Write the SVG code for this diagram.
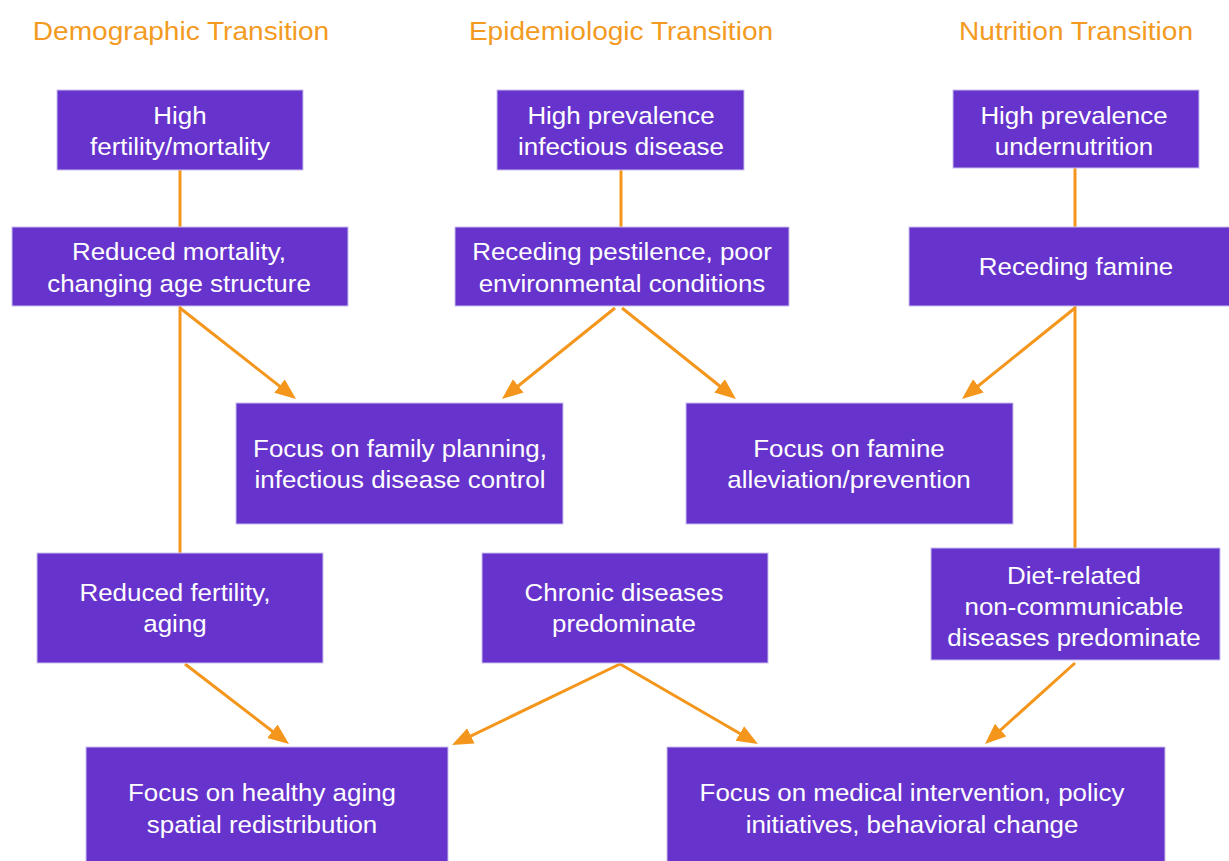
<svg xmlns="http://www.w3.org/2000/svg" width="1229" height="861" viewBox="0 0 1229 861">
  <style>
    .box { fill: #6633cc; stroke: #c9bfee; stroke-width: 1; }
    .t { font-family: "Liberation Sans", Arial, sans-serif; font-size: 24px; fill: #ffffff; text-anchor: middle; }
    .h { font-family: "Liberation Sans", Arial, sans-serif; font-size: 26px; fill: #f39a22; text-anchor: middle; }
    .c { stroke: #f5961c; stroke-width: 3; fill: none; }
    .a { marker-end: url(#head); }
  </style>
  <defs>
    <marker id="head" markerUnits="userSpaceOnUse" markerWidth="22" markerHeight="18" refX="9" refY="8.5" orient="auto">
      <path d="M0,0 L21,8.5 L0,17 Z" fill="#f5961c"/>
    </marker>
  </defs>
  <rect width="1229" height="861" fill="#ffffff"/>

  <!-- column headings -->
  <g id="headings">
    <text class="h" transform="translate(181 40) scale(1.08 1)">Demographic Transition</text>
    <text class="h" transform="translate(621 40) scale(1.08 1)">Epidemiologic Transition</text>
    <text class="h" transform="translate(1076 40) scale(1.08 1)">Nutrition Transition</text>
  </g>

  <!-- connectors -->
  <g id="connectors">
    <line class="c" x1="180" y1="170" x2="180" y2="227"/>
    <line class="c" x1="180" y1="306" x2="180" y2="553"/>
    <line class="c" x1="621" y1="170" x2="621" y2="227"/>
    <line class="c" x1="1075" y1="168" x2="1075" y2="227"/>
    <line class="c" x1="1075" y1="306" x2="1075" y2="548"/>
    <line class="c a" x1="180" y1="308" x2="286.6" y2="391.6"/>
    <line class="c a" x1="615" y1="308" x2="511.3" y2="391.5"/>
    <line class="c a" x1="622" y1="308" x2="726.6" y2="391.5"/>
    <line class="c a" x1="1075" y1="308" x2="971.3" y2="391.5"/>
    <line class="c a" x1="185" y1="664" x2="279.5" y2="736.7"/>
    <line class="c a" x1="620" y1="664" x2="462.8" y2="739.8"/>
    <line class="c a" x1="620" y1="664" x2="747.6" y2="738"/>
    <line class="c a" x1="1075" y1="663" x2="993.9" y2="736"/>
  </g>

  <!-- demographic column -->
  <g id="high-fertility">
    <rect class="box" x="57" y="90" width="246" height="80"/>
    <text class="t" transform="translate(180 0) scale(1.08 1)"><tspan x="0" y="124">High</tspan><tspan x="0" y="155">fertility/mortality</tspan></text>
  </g>
  <g id="reduced-mortality">
    <rect class="box" x="12" y="227" width="336" height="79"/>
    <text class="t" transform="translate(179 0) scale(1.08 1)"><tspan x="0" y="260">Reduced mortality,</tspan><tspan x="0" y="292">changing age structure</tspan></text>
  </g>
  <g id="reduced-fertility">
    <rect class="box" x="37" y="553" width="286" height="110"/>
    <text class="t" transform="translate(175 0) scale(1.08 1)"><tspan x="0" y="601">Reduced fertility,</tspan><tspan x="0" y="632">aging</tspan></text>
  </g>

  <!-- epidemiologic column -->
  <g id="infectious-disease">
    <rect class="box" x="497" y="90" width="247" height="80"/>
    <text class="t" transform="translate(621 0) scale(1.08 1)"><tspan x="0" y="124">High prevalence</tspan><tspan x="0" y="155">infectious disease</tspan></text>
  </g>
  <g id="receding-pestilence">
    <rect class="box" x="455" y="227" width="334" height="79"/>
    <text class="t" transform="translate(622 0) scale(1.08 1)"><tspan x="0" y="260">Receding pestilence, poor</tspan><tspan x="0" y="292">environmental conditions</tspan></text>
  </g>
  <g id="chronic-diseases">
    <rect class="box" x="482" y="553" width="286" height="110"/>
    <text class="t" transform="translate(624 0) scale(1.08 1)"><tspan x="0" y="601">Chronic diseases</tspan><tspan x="0" y="632">predominate</tspan></text>
  </g>

  <!-- nutrition column -->
  <g id="undernutrition">
    <rect class="box" x="953" y="90" width="246" height="78"/>
    <text class="t" transform="translate(1074 0) scale(1.08 1)"><tspan x="0" y="124">High prevalence</tspan><tspan x="0" y="155">undernutrition</tspan></text>
  </g>
  <g id="receding-famine">
    <rect class="box" x="909" y="227" width="330" height="79"/>
    <text class="t" transform="translate(1076 275) scale(1.08 1)">Receding famine</text>
  </g>
  <g id="diet-related">
    <rect class="box" x="931" y="548" width="289" height="112"/>
    <text class="t" transform="translate(1074 0) scale(1.08 1)"><tspan x="0" y="584">Diet-related</tspan><tspan x="0" y="615">non-communicable</tspan><tspan x="0" y="646">diseases predominate</tspan></text>
  </g>

  <!-- response boxes -->
  <g id="family-planning">
    <rect class="box" x="236" y="403" width="327" height="121"/>
    <text class="t" transform="translate(400 0) scale(1.08 1)"><tspan x="0" y="457">Focus on family planning,</tspan><tspan x="0" y="488">infectious disease control</tspan></text>
  </g>
  <g id="famine-alleviation">
    <rect class="box" x="686" y="403" width="327" height="121"/>
    <text class="t" transform="translate(849 0) scale(1.08 1)"><tspan x="0" y="457">Focus on famine</tspan><tspan x="0" y="488">alleviation/prevention</tspan></text>
  </g>
  <g id="healthy-aging">
    <rect class="box" x="86" y="747" width="362" height="120"/>
    <text class="t" transform="translate(262 0) scale(1.08 1)"><tspan x="0" y="801">Focus on healthy aging</tspan><tspan x="0" y="833">spatial redistribution</tspan></text>
  </g>
  <g id="medical-intervention">
    <rect class="box" x="667" y="747" width="498" height="120"/>
    <text class="t" transform="translate(912 0) scale(1.08 1)"><tspan x="0" y="801">Focus on medical intervention, policy</tspan><tspan x="0" y="833">initiatives, behavioral change</tspan></text>
  </g>
</svg>
